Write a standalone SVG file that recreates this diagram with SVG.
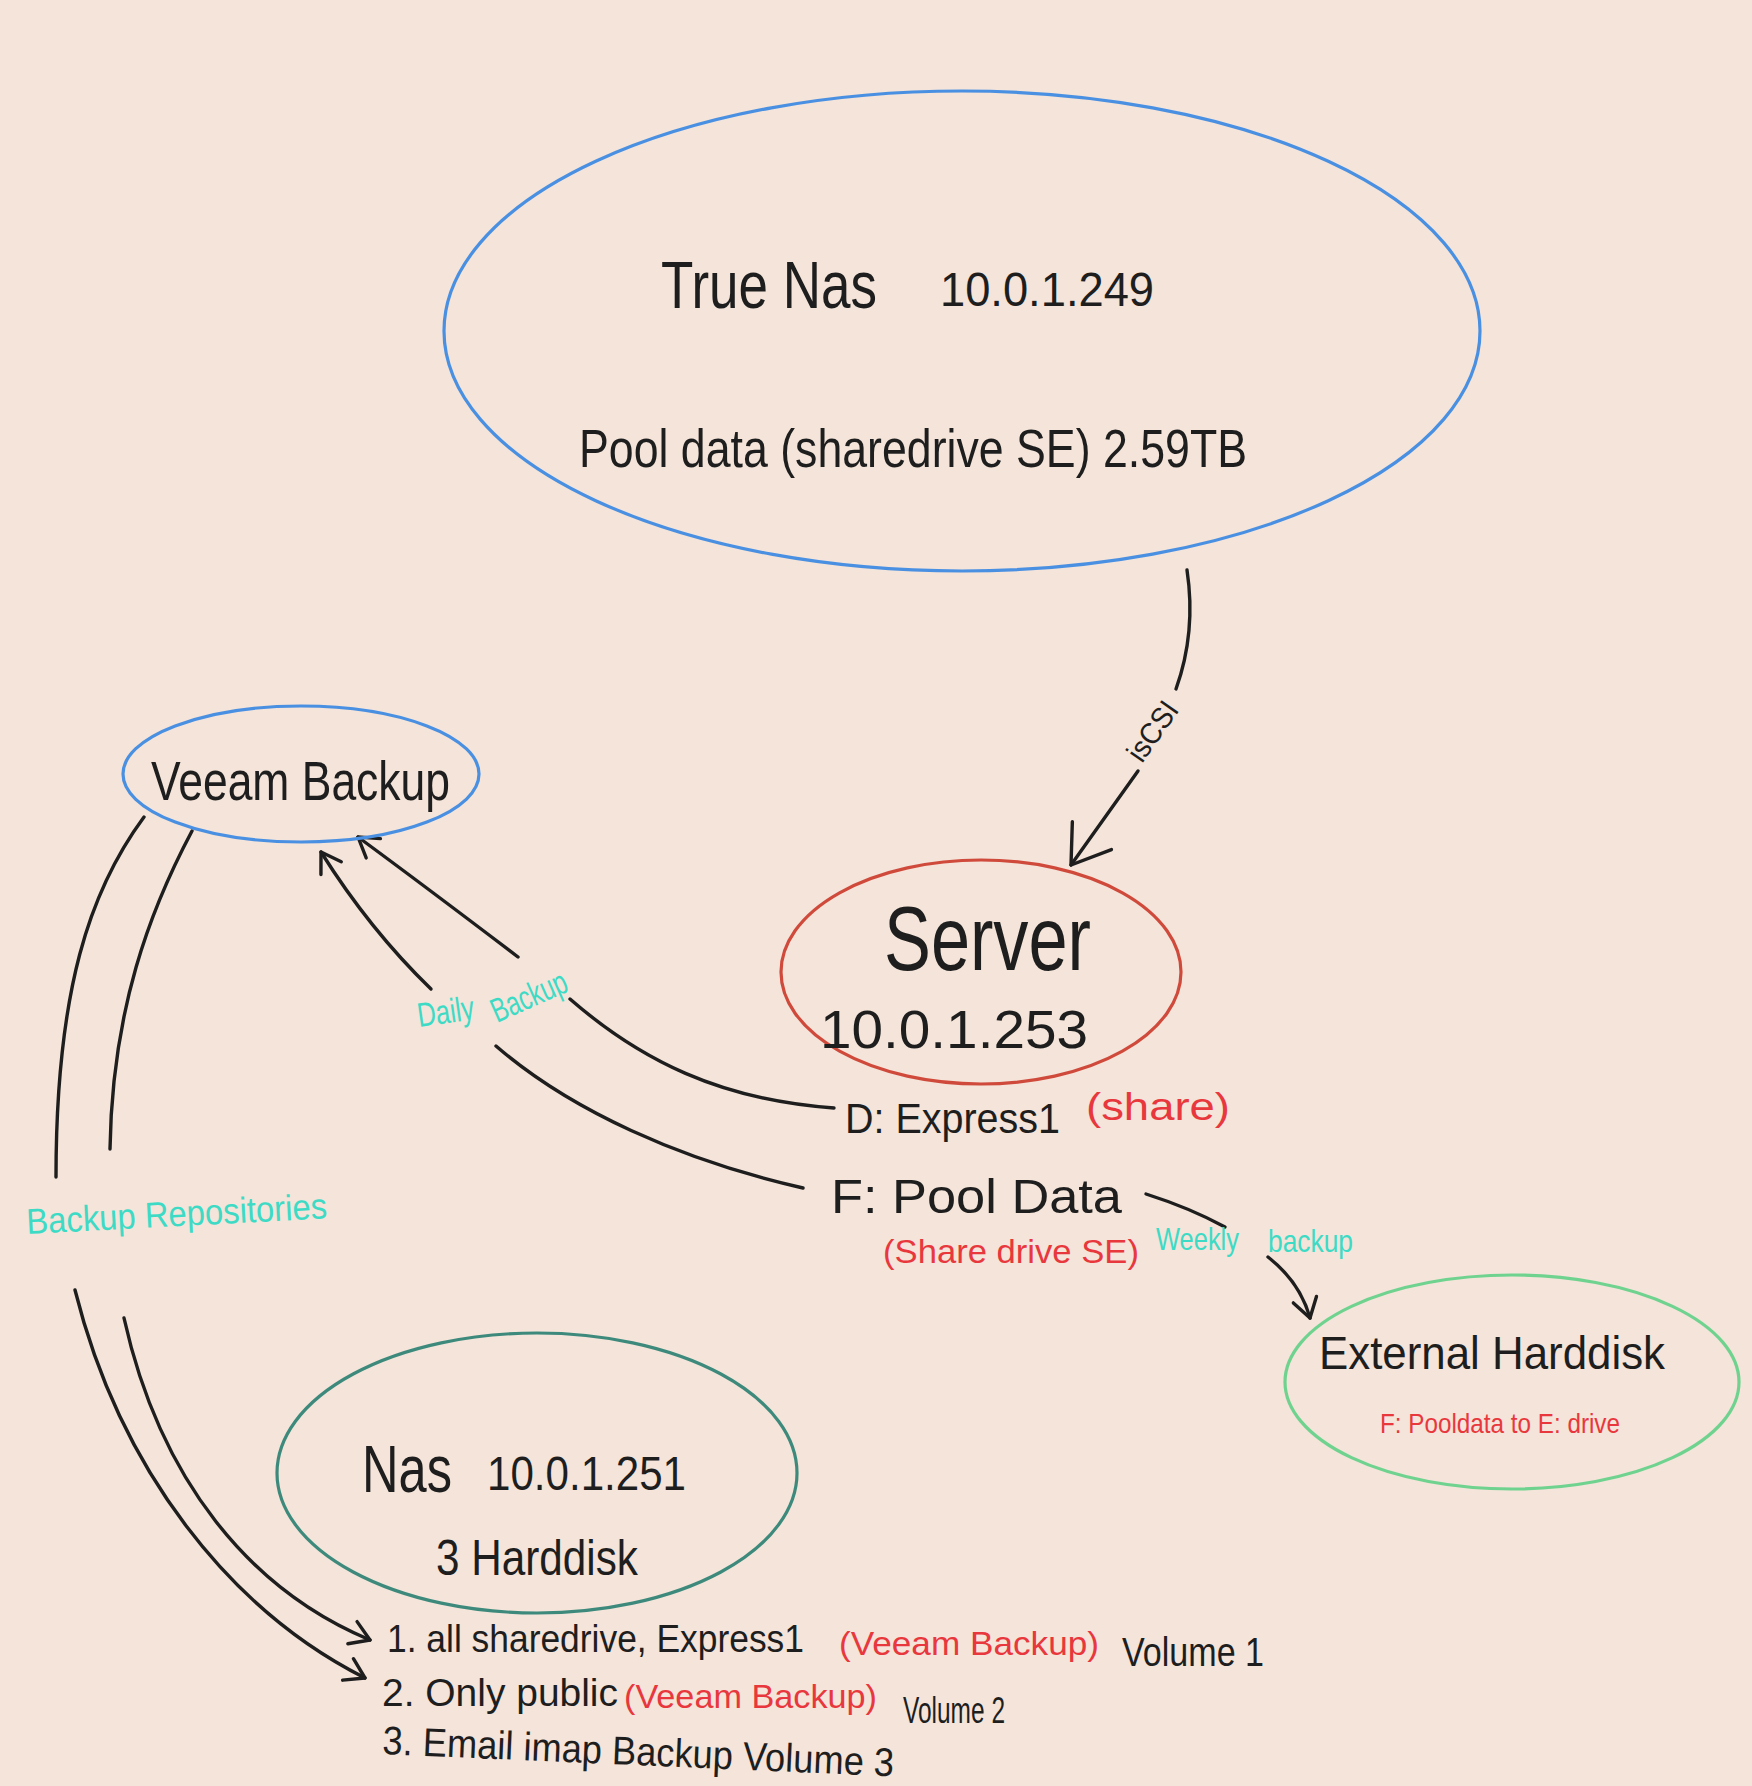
<svg xmlns="http://www.w3.org/2000/svg" width="1752" height="1786" viewBox="0 0 1752 1786">
<defs>
<style>
.bg{fill:#f4e4d9}
.node{fill:none;stroke-width:3.2}
.blue{stroke:#4a90e2}
.red{stroke:#d04a3c}
.green{stroke:#6fd38f}
.teal{stroke:#3d8a7c}
.conn{fill:none;stroke:#1e1e1e;stroke-width:3.4;stroke-linecap:round}
text{font-family:"Liberation Sans","DejaVu Sans",sans-serif;fill:#1e1e1e}
.rt{fill:#e8383d}
.ct{fill:#3ddbc6}
</style>
<marker id="arrow" viewBox="-45 -30 55 60" markerWidth="55" markerHeight="60" refX="0" refY="0" orient="auto" markerUnits="userSpaceOnUse" overflow="visible">
<path d="M -36,-24 L 0,0 L -36,24" fill="none" stroke="#1e1e1e" stroke-width="3.4" stroke-linecap="round" stroke-linejoin="round"/>
</marker>
<marker id="arrow-sm" viewBox="-25 -15 30 30" markerWidth="30" markerHeight="30" refX="0" refY="0" orient="auto" markerUnits="userSpaceOnUse" overflow="visible">
<path d="M -19,-12 L 0,0 L -19,12" fill="none" stroke="#1e1e1e" stroke-width="3.4" stroke-linecap="round" stroke-linejoin="round"/>
</marker>
</defs>
<rect class="bg" x="0" y="0" width="1752" height="1786"/>

<g id="connectors">
<!-- TrueNAS to Server (iSCSI) -->
<path class="conn" d="M1187,570 C1193,610 1190,650 1176,689"/>
<path class="conn" d="M1138,771 L1071,865" marker-end="url(#arrow)"/>
<text x="1142" y="764" font-size="30" textLength="66" lengthAdjust="spacingAndGlyphs" transform="rotate(-55 1142 764)">isCSI</text>
<!-- D: Express1 to Veeam -->
<path class="conn" d="M834,1108 C720,1100 640,1060 570,999"/>
<path class="conn" d="M518,957 Q430,890 358,837" marker-end="url(#arrow-sm)"/>
<!-- F: Pool Data to Veeam -->
<path class="conn" d="M803,1188 C680,1160 570,1110 496,1046"/>
<path class="conn" d="M431,989 Q370,930 321,852" marker-end="url(#arrow-sm)"/>
<!-- F: Pool Data to External Harddisk -->
<path class="conn" d="M1146,1194 Q1190,1208 1225,1227"/>
<path class="conn" d="M1268,1257 Q1300,1282 1310,1318" marker-end="url(#arrow-sm)"/>
<!-- Veeam to Backup Repositories -->
<path class="conn" d="M144,817 C90,890 56,990 56,1177"/>
<path class="conn" d="M192,831 C150,910 112,1010 110,1149"/>
<!-- Backup Repositories to list -->
<path class="conn" d="M75,1290 C120,1470 230,1610 365,1678" marker-end="url(#arrow-sm)"/>
<path class="conn" d="M124,1318 C160,1480 250,1590 370,1640" marker-end="url(#arrow-sm)"/>
<!-- labels -->
<text class="ct" x="419" y="1027" font-size="34" textLength="57" lengthAdjust="spacingAndGlyphs" transform="rotate(-8 419 1027)">Daily</text>
<text class="ct" x="497" y="1023" font-size="34" textLength="80" lengthAdjust="spacingAndGlyphs" transform="rotate(-24 497 1023)">Backup</text>
<text class="ct" x="1156" y="1250" font-size="32" textLength="83" lengthAdjust="spacingAndGlyphs">Weekly</text>
<text class="ct" x="1268" y="1252" font-size="32" textLength="85" lengthAdjust="spacingAndGlyphs">backup</text>
<text class="ct" x="27" y="1234" font-size="36" textLength="301" lengthAdjust="spacingAndGlyphs" transform="rotate(-3 27 1234)">Backup Repositories</text>
</g>

<g id="truenas">
<ellipse class="node blue" cx="962" cy="331" rx="518" ry="240"/>
<text x="661" y="308" font-size="66" textLength="216" lengthAdjust="spacingAndGlyphs">True Nas</text>
<text x="940" y="306" font-size="48" textLength="214" lengthAdjust="spacingAndGlyphs">10.0.1.249</text>
<text x="579" y="467" font-size="54" textLength="668" lengthAdjust="spacingAndGlyphs">Pool data (sharedrive SE) 2.59TB</text>
</g>

<g id="veeam">
<ellipse class="node blue" cx="301" cy="774" rx="178" ry="68"/>
<text x="151" y="800" font-size="56" textLength="299" lengthAdjust="spacingAndGlyphs">Veeam Backup</text>
</g>

<g id="server">
<ellipse class="node red" cx="981" cy="972" rx="200" ry="112"/>
<text x="884" y="970" font-size="90" textLength="207" lengthAdjust="spacingAndGlyphs">Server</text>
<text x="820" y="1048" font-size="54" textLength="268" lengthAdjust="spacingAndGlyphs">10.0.1.253</text>
<text x="845" y="1133" font-size="42" textLength="215" lengthAdjust="spacingAndGlyphs">D: Express1</text>
<text class="rt" x="1086" y="1120" font-size="38" textLength="144" lengthAdjust="spacingAndGlyphs">(share)</text>
<text x="831" y="1213" font-size="48" textLength="291" lengthAdjust="spacingAndGlyphs">F: Pool Data</text>
<text class="rt" x="883" y="1263" font-size="34" textLength="256" lengthAdjust="spacingAndGlyphs">(Share drive SE)</text>
</g>

<g id="external">
<ellipse class="node green" cx="1512" cy="1382" rx="227" ry="107"/>
<text x="1319" y="1369" font-size="46" textLength="346" lengthAdjust="spacingAndGlyphs">External Harddisk</text>
<text class="rt" x="1380" y="1433" font-size="28" textLength="240" lengthAdjust="spacingAndGlyphs">F: Pooldata to E: drive</text>
</g>

<g id="nas">
<ellipse class="node teal" cx="537" cy="1473" rx="260" ry="140"/>
<text x="362" y="1492" font-size="66" textLength="90" lengthAdjust="spacingAndGlyphs">Nas</text>
<text x="487" y="1490" font-size="48" textLength="199" lengthAdjust="spacingAndGlyphs">10.0.1.251</text>
<text x="436" y="1575" font-size="50" textLength="202" lengthAdjust="spacingAndGlyphs">3 Harddisk</text>
</g>

<g id="volumes">
<text x="387" y="1652" font-size="38" textLength="417" lengthAdjust="spacingAndGlyphs">1. all sharedrive, Express1</text>
<text class="rt" x="839" y="1655" font-size="34" textLength="260" lengthAdjust="spacingAndGlyphs">(Veeam  Backup)</text>
<text x="1122" y="1666" font-size="40" textLength="142" lengthAdjust="spacingAndGlyphs">Volume 1</text>
<text x="382" y="1706" font-size="38" textLength="236" lengthAdjust="spacingAndGlyphs">2. Only public</text>
<text class="rt" x="624" y="1708" font-size="34" textLength="253" lengthAdjust="spacingAndGlyphs">(Veeam  Backup)</text>
<text x="903" y="1723" font-size="36" textLength="102" lengthAdjust="spacingAndGlyphs">Volume 2</text>
<text x="382" y="1754" font-size="40" textLength="512" lengthAdjust="spacingAndGlyphs" transform="rotate(2.5 382 1754)">3. Email  imap Backup Volume 3</text>
</g>
</svg>
